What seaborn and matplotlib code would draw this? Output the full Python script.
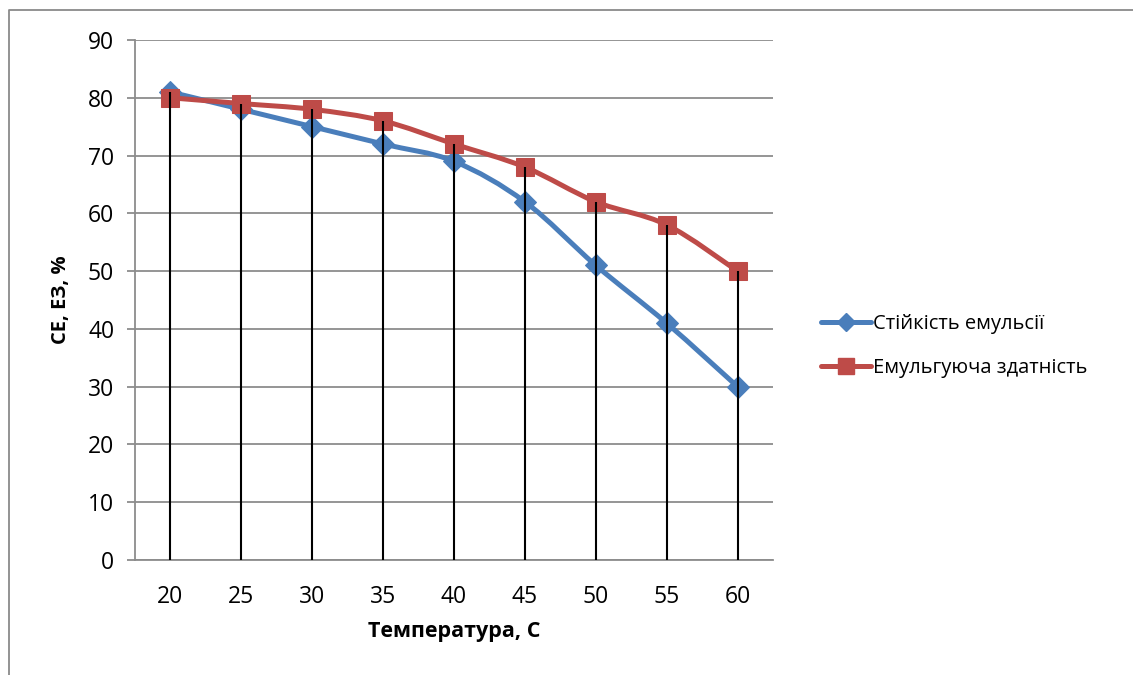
import numpy as np
import matplotlib
matplotlib.use("Agg")
import matplotlib.pyplot as plt
from matplotlib.path import Path
from matplotlib.patches import PathPatch
from matplotlib.lines import Line2D
import seaborn as sns

temps = ["20", "25", "30", "35", "40", "45", "50", "55", "60"]
stability = [81, 78, 75, 72, 69, 62, 51, 41, 30]
emulsifying = [80, 79, 78, 76, 72, 68, 62, 58, 50]
series_names = ["Стійкість емульсії", "Емульгуюча здатність"]
y_ticks = [0, 10, 20, 30, 40, 50, 60, 70, 80, 90]

sns.set_style("white")
plt.rcParams['font.family'] = ['Open Sans', 'DejaVu Sans']
plt.rcParams['text.color'] = 'black'
plt.rcParams['axes.labelcolor'] = 'black'
plt.rcParams['xtick.color'] = 'black'
plt.rcParams['ytick.color'] = 'black'

BLUE = "#4A7EBB"
RED = "#BE4B48"
GRID = "#8c8c8c"

fig = plt.figure(figsize=(11.33, 6.75), dpi=100)
ax = fig.add_axes([135/1133, 1-560/675, (773-135)/1133, (560-40)/675])

x = np.arange(len(temps))

ax.set_ylim(0, 90)
ax.set_xlim(-0.5, len(temps) - 0.5)
ax.set_yticks(y_ticks)
ax.yaxis.grid(True, color=GRID, lw=1.3)
ax.xaxis.grid(False)
ax.set_axisbelow(True)

top = np.maximum(stability, emulsifying)


def smooth_path(xs, ys):
    pts = np.column_stack([xs, ys]).astype(float)
    verts = [pts[0]]
    codes = [Path.MOVETO]
    n = len(pts)
    for i in range(n - 1):
        p0 = pts[i - 1] if i > 0 else pts[i]
        p1 = pts[i]
        p2 = pts[i + 1]
        p3 = pts[i + 2] if i + 2 < n else pts[i + 1]
        c1 = p1 + (p2 - p0) / 6.0
        c2 = p2 - (p3 - p1) / 6.0
        verts += [c1, c2, p2]
        codes += [Path.CURVE4] * 3
    return Path(verts, codes)


for vals, col in [(stability, BLUE), (emulsifying, RED)]:
    ax.add_patch(PathPatch(smooth_path(x, vals), fill=False, edgecolor=col,
                           lw=3.6, capstyle='round', joinstyle='round', zorder=3))

sns.lineplot(x=x, y=stability, ax=ax, linestyle='none', marker='D',
             markersize=11, color=BLUE, markeredgecolor=BLUE, zorder=4)
sns.lineplot(x=x, y=emulsifying, ax=ax, linestyle='none', marker='s',
             markersize=12.5, color=RED, markeredgecolor=RED, zorder=5)

# drop lines (drawn over markers, as in the original)
ax.vlines(x, 0, top, color="black", lw=1.5, zorder=6)

ax.set_xticks(x)
ax.set_xticklabels(temps)
for sp in ["top", "right"]:
    ax.spines[sp].set_visible(False)
for sp in ["left", "bottom"]:
    ax.spines[sp].set_color(GRID)
    ax.spines[sp].set_linewidth(1.3)
ax.tick_params(axis='y', direction='out', length=6, width=1.3, color=GRID,
               labelcolor='black', labelsize=16.5, pad=9, left=True)
ax.tick_params(axis='x', length=0, labelsize=16.5, pad=18, labelcolor='black')
ax.set_xlabel("Температура, С", fontsize=15.5, fontweight='bold', labelpad=9,
              color='black')
ax.set_ylabel("СЕ, ЕЗ, %", fontsize=14.5, fontweight='bold', labelpad=12,
              color='black')

handles = [Line2D([], [], color=BLUE, lw=3.6, marker='D', ms=9.5),
           Line2D([], [], color=RED, lw=3.6, marker='s', ms=11)]
fig.legend(handles, series_names, loc='center left',
           bbox_to_anchor=(803/1133, 1-346/675), frameon=False, fontsize=14.5,
           handlelength=2.5, handletextpad=0.1, labelspacing=1.15,
           labelcolor='black')

# outer chart frame
fig.add_artist(Line2D([9/1133, 9/1133, 1.0], [0.0, 1-10/675, 1-10/675],
                      transform=fig.transFigure, color="#8a8a8a", lw=1.3))

fig.savefig("out.png", dpi=100)
